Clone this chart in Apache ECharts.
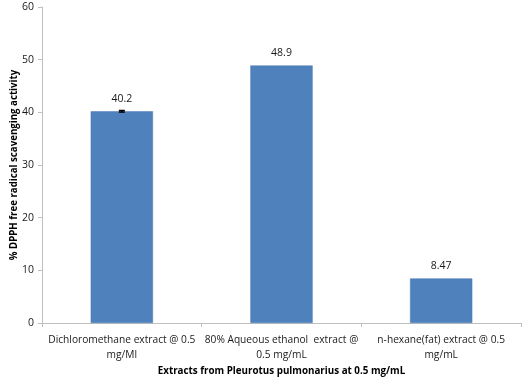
<!DOCTYPE html>
<html><head><meta charset="utf-8">
<script src="https://cdn.jsdelivr.net/npm/echarts@6/dist/echarts.min.js"></script>
<style>html,body{margin:0;padding:0;background:#fff}#c{width:526px;height:383px}</style>
</head><body><div id="c"></div>
<script>
var categories = ["Dichloromethane extract @ 0.5\nmg/Ml", "80% Aqueous ethanol  extract @\n0.5 mg/mL", "n-hexane(fat) extract @ 0.5\nmg/mL"];
var values = [40.2, 48.9, 8.47];
var errors = [0.15, 0, 0];
var yTicks = {min: 0, max: 60, interval: 10};
var FONT = 'Open Sans';
var chart = echarts.init(document.getElementById('c'));
chart.setOption({
  animation: false,
  textStyle: {fontFamily: FONT},
  grid: {left: 42, right: 5, top: 7, bottom: 60, containLabel: false, outerBoundsMode: 'none'},
  xAxis: {
    type: 'category', data: categories,
    name: 'Extracts from Pleurotus pulmonarius at 0.5 mg/mL',
    nameLocation: 'middle', nameGap: 43, nameMoveOverlap: false,
    nameTextStyle: {fontFamily: FONT, fontSize: 9.8, fontWeight: 'bold', color: '#000'},
    axisLine: {lineStyle: {color: '#bfbfbf'}},
    axisTick: {show: true, length: 4, lineStyle: {color: '#bfbfbf'}},
    axisLabel: {fontFamily: FONT, fontSize: 10.2, color: '#1a1a1a', margin: 10, lineHeight: 14.5, interval: 0}
  },
  yAxis: {
    type: 'value', min: yTicks.min, max: yTicks.max, interval: yTicks.interval,
    name: '% DPPH free radical scavenging activity',
    nameLocation: 'middle', nameGap: 23, nameRotate: 90, nameMoveOverlap: false,
    nameTextStyle: {fontFamily: FONT, fontSize: 9.7, fontWeight: 'bold', color: '#000'},
    axisLine: {show: true, lineStyle: {color: '#bfbfbf'}},
    axisTick: {show: true, length: 4, lineStyle: {color: '#bfbfbf'}},
    splitLine: {show: false},
    axisLabel: {fontFamily: FONT, fontSize: 10.5, color: '#1a1a1a', margin: 8}
  },
  series: [{
    type: 'bar', data: values, barWidth: '39%',
    itemStyle: {color: '#4f81bd', borderColor: '#4a7ab4', borderWidth: 0.5},
    label: {show: true, position: 'top', distance: 7, fontFamily: FONT, fontSize: 10.5, color: '#1a1a1a',
      formatter: function(p){ return String(values[p.dataIndex]); }}
  }, {
    type: 'custom',
    data: values.map(function(v, i){ return [i, v, errors[i]]; }),
    renderItem: function(params, api){
      var e = api.value(2);
      if (!e) return null;
      var hi = api.coord([api.value(0), api.value(1) + e]);
      var lo = api.coord([api.value(0), api.value(1) - e]);
      var w = 3;
      return {type: 'group', children: [
        {type: 'line', shape: {x1: hi[0], y1: hi[1], x2: lo[0], y2: lo[1]}, style: {stroke: '#000', lineWidth: 1.5}},
        {type: 'line', shape: {x1: hi[0]-w, y1: hi[1], x2: hi[0]+w, y2: hi[1]}, style: {stroke: '#000', lineWidth: 1.5}},
        {type: 'line', shape: {x1: lo[0]-w, y1: lo[1], x2: lo[0]+w, y2: lo[1]}, style: {stroke: '#000', lineWidth: 1.5}}
      ]};
    },
    z: 5
  }]
});
</script></body></html>
